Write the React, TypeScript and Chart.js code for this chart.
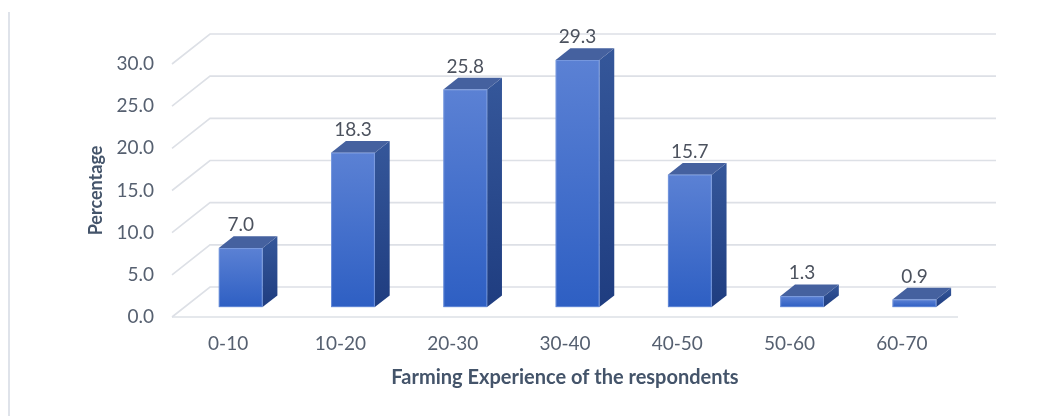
import { useEffect, useRef } from "react";
import { Chart, registerables } from "chart.js";

Chart.register(...registerables);

// Share of respondents by years of farming experience
const categories = ["0-10", "10-20", "20-30", "30-40", "40-50", "50-60", "60-70"];
const percentages = [7.0, 18.3, 25.8, 29.3, 15.7, 1.3, 0.9];
const yTicks = [0, 5, 10, 15, 20, 25, 30];
const yTitle = "Percentage";
const xTitle = "Farming Experience of the respondents";

const FONT = "Lato, 'Open Sans', sans-serif";
const TICK_COLOR = "#566070";
const TITLE_COLOR = "#44546a";
const LABEL_COLOR = "#4c525e";
const GRID_COLOR = "#dde0e6";

// Pseudo-3D geometry: offset of the back wall relative to the front plane
const WALL_DX = 38;
const WALL_DY = 30;
const BAR_FRONT = 0.33; // depth fraction where the bar front faces sit
const BAR_DEPTH = 0.39; // depth fraction taken up by each bar

const wallPlugin = {
  id: "wall3d",
  beforeDraw(chart: any) {
    const { ctx, height } = chart;
    ctx.save();
    ctx.strokeStyle = "#dfe3ea";
    ctx.lineWidth = 2;
    ctx.beginPath();
    ctx.moveTo(9, 12);
    ctx.lineTo(9, height);
    ctx.stroke();
    ctx.restore();
  },
  beforeDatasetsDraw(chart: any) {
    const { ctx, chartArea, scales } = chart;
    const y = scales.y;
    ctx.save();
    ctx.strokeStyle = GRID_COLOR;
    ctx.lineWidth = 1.6;
    ctx.lineCap = "butt";
    yTicks.forEach((v) => {
      const py = y.getPixelForValue(v);
      ctx.beginPath();
      ctx.moveTo(chartArea.left, py);
      ctx.lineTo(chartArea.left + WALL_DX, py - WALL_DY);
      ctx.lineTo(chartArea.right + WALL_DX, py - WALL_DY);
      ctx.stroke();
    });
    // front edge of the floor
    const base = y.getPixelForValue(0);
    ctx.beginPath();
    ctx.moveTo(chartArea.left, base);
    ctx.lineTo(chartArea.right, base);
    ctx.stroke();
    ctx.restore();
  },
};

const barsPlugin = {
  id: "bars3d",
  afterDatasetsDraw(chart: any) {
    const { ctx } = chart;
    const meta = chart.getDatasetMeta(0);
    const values = chart.data.datasets[0].data as number[];
    const fdx = WALL_DX * BAR_FRONT;
    const fdy = WALL_DY * BAR_FRONT;
    const ddx = WALL_DX * BAR_DEPTH;
    const ddy = WALL_DY * BAR_DEPTH;
    ctx.save();
    meta.data.forEach((el: any, i: number) => {
      const { x, y, base, width } = el.getProps(["x", "y", "base", "width"], true);
      const x0 = x - width / 2 + fdx;
      const x1 = x + width / 2 + fdx;
      const yt = y - fdy;
      const yb = base - fdy;

      // right side face
      const side = ctx.createLinearGradient(0, yt - ddy, 0, yb);
      side.addColorStop(0, "#35579a");
      side.addColorStop(1, "#1f3d80");
      ctx.fillStyle = side;
      ctx.beginPath();
      ctx.moveTo(x1, yt);
      ctx.lineTo(x1 + ddx, yt - ddy);
      ctx.lineTo(x1 + ddx, yb - ddy);
      ctx.lineTo(x1, yb);
      ctx.closePath();
      ctx.fill();

      // top face
      ctx.fillStyle = "#45619f";
      ctx.beginPath();
      ctx.moveTo(x0, yt);
      ctx.lineTo(x1, yt);
      ctx.lineTo(x1 + ddx, yt - ddy);
      ctx.lineTo(x0 + ddx, yt - ddy);
      ctx.closePath();
      ctx.fill();

      // front face
      const front = ctx.createLinearGradient(0, yt, 0, yb);
      front.addColorStop(0, "#5b81d4");
      front.addColorStop(1, "#2e5fc3");
      ctx.fillStyle = front;
      ctx.fillRect(x0, yt, x1 - x0, yb - yt);
      ctx.strokeStyle = "rgba(140,170,230,0.55)";
      ctx.lineWidth = 1;
      ctx.strokeRect(x0 + 0.5, yt + 0.5, x1 - x0 - 1, yb - yt - 1);

      // value label
      ctx.fillStyle = LABEL_COLOR;
      ctx.font = `19px ${FONT}`;
      ctx.textAlign = "center";
      ctx.textBaseline = "middle";
      ctx.fillText(values[i].toFixed(1), (x0 + x1) / 2, yt - 23);
    });
    ctx.restore();
  },
};

export default function App() {
  const canvasRef = useRef<HTMLCanvasElement | null>(null);

  useEffect(() => {
    const canvas = canvasRef.current;
    if (!canvas) return;
    const chart = new Chart(canvas, {
      type: "bar",
      data: {
        labels: categories,
        datasets: [
          {
            data: percentages,
            backgroundColor: "rgba(0,0,0,0)",
            borderWidth: 0,
            barPercentage: 0.39,
            categoryPercentage: 1,
          },
        ],
      },
      options: {
        animation: false,
        responsive: false,
        devicePixelRatio: 1,
        layout: { padding: { left: 85, right: 96, top: 64, bottom: 0 } },
        plugins: { legend: { display: false }, tooltip: { enabled: false } },
        scales: {
          x: {
            grid: { display: false, drawTicks: false },
            border: { display: false },
            ticks: { color: TICK_COLOR, font: { family: FONT, size: 19 }, padding: 15 },
            title: {
              display: true,
              text: xTitle,
              color: TITLE_COLOR,
              font: { family: FONT, size: 20, weight: "bold" },
              padding: { top: 0, bottom: 26 },
            },
            afterFit: (s: any) => {
              s.height = 99;
            },
          },
          y: {
            min: 0,
            max: 30,
            grid: { display: false, drawTicks: false },
            border: { display: false },
            afterBuildTicks: (s: any) => {
              s.ticks = yTicks.map((v) => ({ value: v }));
            },
            ticks: {
              color: TICK_COLOR,
              font: { family: FONT, size: 19 },
              padding: 18,
              callback: (v: any) => Number(v).toFixed(1),
            },
            title: {
              display: true,
              text: yTitle,
              color: TITLE_COLOR,
              font: { family: FONT, size: 18, weight: "bold" },
              padding: { top: 0, bottom: 0 },
            },
            afterFit: (s: any) => {
              s.width = 87;
            },
          },
        },
      },
      plugins: [wallPlugin, barsPlugin],
    });
    return () => chart.destroy();
  }, []);

  return (
    <div style={{ position: "fixed", left: 0, top: 0, width: 1054, height: 416, background: "#fff" }}>
      <canvas ref={canvasRef} width={1054} height={416} />
    </div>
  );
}
